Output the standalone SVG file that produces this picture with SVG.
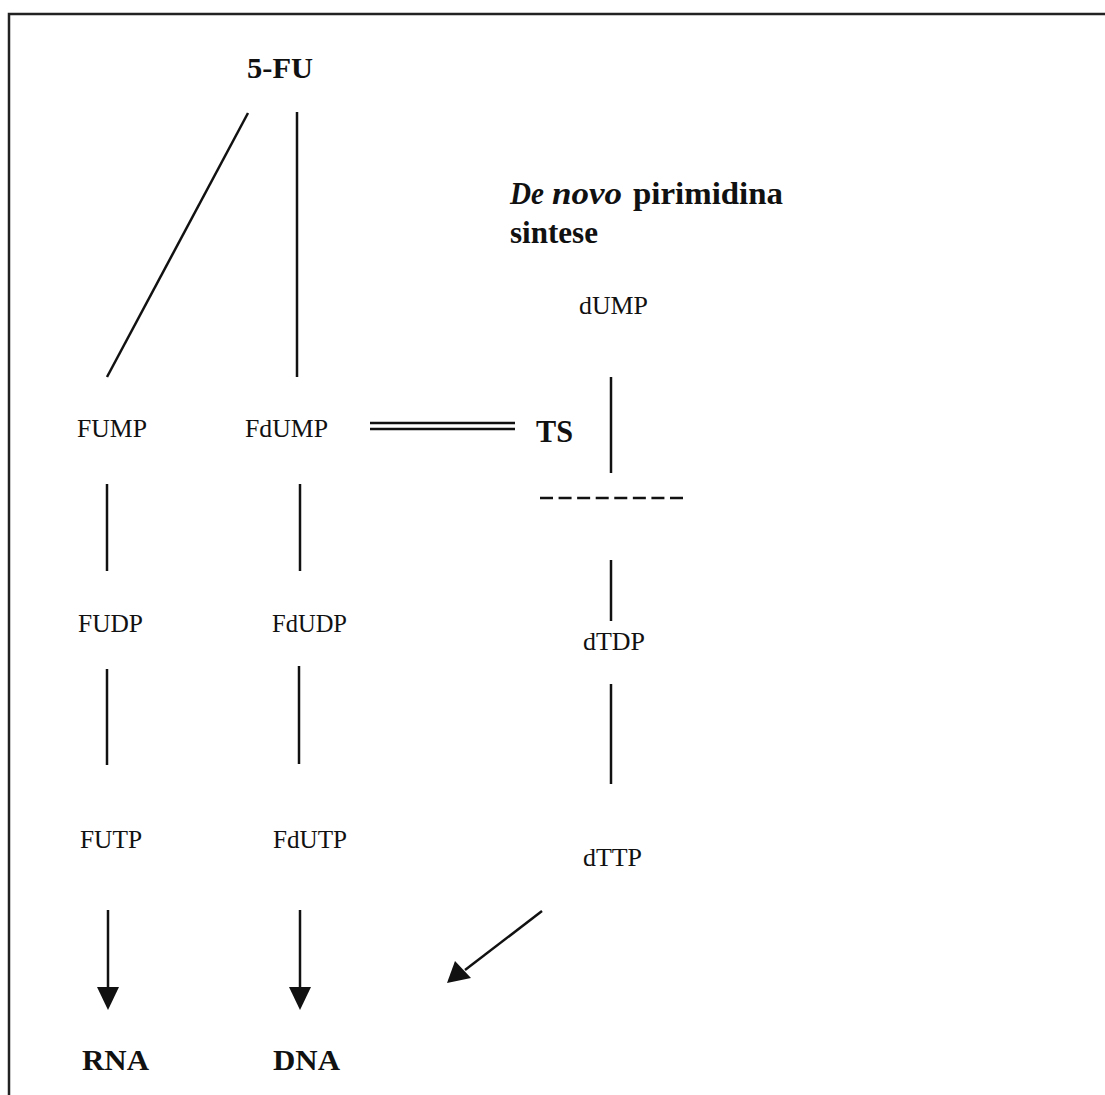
<svg xmlns="http://www.w3.org/2000/svg" width="1105" height="1095" viewBox="0 0 1105 1095">
<style>
.t{font-family:"Liberation Serif","Times New Roman",serif;font-size:26px;fill:#111}
.b{font-family:"Liberation Serif","Times New Roman",serif;font-weight:bold;fill:#111}
.ln{stroke:#111;stroke-width:2.5;fill:none}
</style>
<rect width="1105" height="1095" fill="#fff"/>
<rect x="9" y="14" width="1120" height="1110" fill="none" stroke="#222" stroke-width="2.5"/>

<g id="connectors">
<line class="ln" x1="248" y1="113" x2="107" y2="377"/>
<line class="ln" x1="297" y1="112" x2="297" y2="377"/>
<line class="ln" x1="107" y1="484" x2="107" y2="571"/>
<line class="ln" x1="300" y1="484" x2="300" y2="571"/>
<line class="ln" x1="107" y1="669" x2="107" y2="765"/>
<line class="ln" x1="299" y1="666" x2="299" y2="764"/>
<line class="ln" x1="370" y1="423" x2="515" y2="423"/>
<line class="ln" x1="370" y1="429" x2="515" y2="429"/>
<line class="ln" x1="611" y1="377" x2="611" y2="473"/>
<line class="ln" x1="540" y1="498" x2="683" y2="498" stroke-dasharray="13 5.57"/>
<line class="ln" x1="611" y1="560" x2="611" y2="621"/>
<line class="ln" x1="611" y1="684" x2="611" y2="784"/>
<line class="ln" x1="108" y1="910" x2="108" y2="990"/>
<path d="M97,987 L119,987 L108,1010 Z" fill="#111"/>
<line class="ln" x1="300" y1="910" x2="300" y2="990"/>
<path d="M289,987 L311,987 L300,1010 Z" fill="#111"/>
<line class="ln" x1="542" y1="911" x2="465" y2="970"/>
<path d="M447,983 L455,961 L471,978 Z" fill="#111"/>
</g>

<g id="n-5fu"><text class="b" x="247" y="78" font-size="30" textLength="66" lengthAdjust="spacingAndGlyphs">5-FU</text></g>
<g id="n-fump"><text class="t" x="77" y="437" textLength="70" lengthAdjust="spacingAndGlyphs">FUMP</text></g>
<g id="n-fdump"><text class="t" x="245" y="437" textLength="83" lengthAdjust="spacingAndGlyphs">FdUMP</text></g>
<g id="n-ts"><text class="b" x="536" y="442" font-size="31" textLength="37" lengthAdjust="spacingAndGlyphs">TS</text></g>
<g id="n-denovo">
<text class="b" x="510" y="204" font-size="32"><tspan font-style="italic" textLength="34" lengthAdjust="spacingAndGlyphs">De</tspan> <tspan x="552" font-style="italic" textLength="70" lengthAdjust="spacingAndGlyphs">novo</tspan> <tspan x="633" textLength="150" lengthAdjust="spacingAndGlyphs">pirimidina</tspan></text>
<text class="b" x="510" y="243" font-size="32" textLength="88" lengthAdjust="spacingAndGlyphs">sintese</text>
</g>
<g id="n-dump"><text class="t" x="579" y="314" textLength="69" lengthAdjust="spacingAndGlyphs">dUMP</text></g>
<g id="n-fudp"><text class="t" x="78" y="632" textLength="65" lengthAdjust="spacingAndGlyphs">FUDP</text></g>
<g id="n-fdudp"><text class="t" x="272" y="632" textLength="75" lengthAdjust="spacingAndGlyphs">FdUDP</text></g>
<g id="n-dtdp"><text class="t" x="583" y="650" textLength="62" lengthAdjust="spacingAndGlyphs">dTDP</text></g>
<g id="n-futp"><text class="t" x="80" y="848" textLength="62" lengthAdjust="spacingAndGlyphs">FUTP</text></g>
<g id="n-fdutp"><text class="t" x="273" y="848" textLength="74" lengthAdjust="spacingAndGlyphs">FdUTP</text></g>
<g id="n-dttp"><text class="t" x="583" y="866" textLength="59" lengthAdjust="spacingAndGlyphs">dTTP</text></g>
<g id="n-rna"><text class="b" x="82" y="1070" font-size="29" textLength="67" lengthAdjust="spacingAndGlyphs">RNA</text></g>
<g id="n-dna"><text class="b" x="273" y="1070" font-size="29" textLength="67" lengthAdjust="spacingAndGlyphs">DNA</text></g>
</svg>
